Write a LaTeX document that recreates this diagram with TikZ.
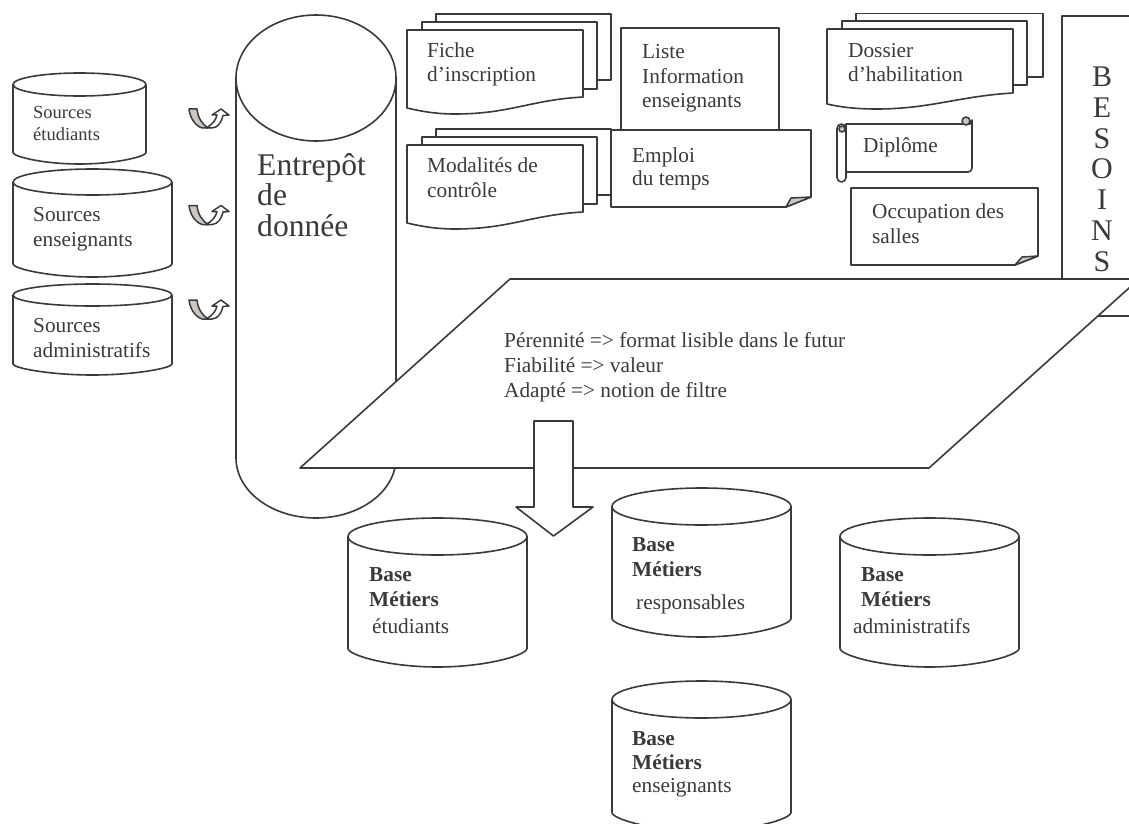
\documentclass[tikz,border=0pt]{standalone}
\usepackage{fontspec}
\setmainfont{Liberation Serif}
\definecolor{ink}{HTML}{3A3A3A}
\definecolor{foldgray}{HTML}{CBC6C2}
\tikzset{
  shapeline/.style={draw=ink,line width=1.6pt,fill=white,line join=round},
  thinline/.style={draw=ink,line width=1.5pt,line join=round},
  lbl/.style={anchor=base west,inner sep=0pt,align=left,text=ink,font=\fontsize{21.3}{24.5}\selectfont},
  lblsmall/.style={lbl,font=\fontsize{18.5}{22}\selectfont},
  lblbig/.style={lbl,font=\fontsize{31.6}{30.5}\selectfont},
  lblemp/.style={lbl,font=\fontsize{21.3}{23}\selectfont},
  lblbes/.style={lbl,align=center,anchor=base,font=\fontsize{30}{30.7}\selectfont},
  lblblock/.style={lbl,font=\fontsize{21.3}{25}\selectfont},
}
% x1, x2, top, bottom, ry
\newcommand\cylshape[5]{%
  \pgfmathsetmacro\cylcx{(#1+#2)/2}%
  \pgfmathsetmacro\cylrx{(#2-#1)/2}%
  \pgfmathsetmacro\cylcy{#3+#5}%
  \pgfmathsetmacro\cylsb{#4-#5}%
  \pgfmathsetmacro\cylca{#4-0.65*#5}%
  \pgfmathsetmacro\cylcl{#1+0.45*\cylrx}%
  \pgfmathsetmacro\cylcr{#2-0.45*\cylrx}%
  \draw[shapeline] (#1,\cylcy) -- (#1,\cylsb)
    .. controls (#1,\cylca) and (\cylcl,#4) .. (\cylcx,#4)
    .. controls (\cylcr,#4) and (#2,\cylca) .. (#2,\cylsb)
    -- (#2,\cylcy);
  \draw[shapeline] (\cylcx,\cylcy) ellipse [x radius=\cylrx,y radius=#5];
}
% stacked wave document: dx, dy from the Fiche position
\newcommand\wavestack[2]{%
  \begin{scope}[shift={(#1,#2)}]
    \draw[shapeline] (436,14) -- (611,14) -- (611,80) -- (560,80) -- (436,80) -- cycle;
    \draw[shapeline] (422,22) -- (597,22) -- (597,89) -- (540,89) -- (422,89) -- cycle;
    \draw[shapeline] (407,30) -- (583,30) -- (583,97)
      .. controls (530,100) and (510,114) .. (455,114)
      .. controls (435,114) and (420,111) .. (407,108) -- cycle;
  \end{scope}
}
% fold page: x1,x2,top,bottom,right end of side,left end of bottom,fold x
\newcommand\foldpage[7]{%
  \draw[shapeline] (#1,#3) -- (#2,#3) -- (#2,#5) -- (#6,#4) -- (#1,#4) -- cycle;
  \draw[thinline,fill=foldgray] (#6,#4) -- (#7,#5+1) -- (#2,#5) -- cycle;
}
% curved arrow
\newcommand\bentarrow[1]{%
  \begin{scope}[shift={(0,#1)}]
    \draw[thinline,fill=foldgray] (189,109) -- (197,109)
      .. controls (198,118) and (202,124) .. (208,128)
      -- (202,128) .. controls (194,125) and (190,117) .. (189,109) -- cycle;
    \draw[thinline,fill=white] (206,128)
      .. controls (212,125) and (216,120) .. (217,115)
      -- (212,115) -- (221,109) -- (229,115) -- (223,115.5)
      .. controls (222,121) and (218,128) .. (212,128) -- cycle;
  \end{scope}
}
\begin{document}
\begin{tikzpicture}[x=1pt,y=-1pt]
\clip (0,0) rectangle (1129,824);
\fill[white] (0,0) rectangle (1129,824);

% sources
\cylshape{13}{146}{73}{164}{11.5}
\cylshape{13}{172}{169}{277}{13}
\cylshape{13}{172}{284}{375}{11}
\node[lblsmall] (srcetu) at (33,140) {Sources\\étudiants};
\node[lbl] (srcens) at (33,246) {Sources\\enseignants};
\node[lbl] (srcadm) at (33,357) {Sources\\administratifs};

\bentarrow{0}
\bentarrow{96.5}
\bentarrow{191}

% warehouse
\draw[shapeline] (236,78) -- (236,458)
  arc[start angle=180,end angle=0,x radius=80,y radius=60] -- (396,78);
\draw[shapeline] (316,78) ellipse [x radius=80,y radius=63];
\node[lblbig] (entrepot) at (257,236) {Entrepôt\\de\\donnée};

% documents
\draw[shapeline] (621,28) rectangle (779,140);
\node[lbl] (liste) at (642,108) {Liste\\Information\\enseignants};

\wavestack{0}{0}
\node[lbl] (fiche) at (427,82) {Fiche\\d’inscription};
\wavestack{0}{115}
\node[lbl] (modal) at (427,197) {Modalités de\\contrôle};

\foldpage{611}{811}{130}{207}{197}{786}{791}
\node[lblemp] (emploi) at (632,185) {Emploi\\du temps};

\begin{scope}[shift={(420,-1)}]
  \draw[shapeline] (436,14.5) -- (623,14.5) -- (623,78) -- (436,78) -- cycle;
  \draw[shapeline] (422,22) -- (607,22) -- (607,86) -- (422,86) -- cycle;
  \draw[shapeline] (407,30) -- (593,30) -- (593,94)
    .. controls (540,97) and (510,110) .. (457,110)
    .. controls (435,110) and (420,108) .. (407,105) -- cycle;
\end{scope}
\node[lbl] (dossier) at (848,82) {Dossier\\d’habilitation};

% scroll
\draw[shapeline] (846,124) -- (970,124) -- (972,120) -- (972,168)
  arc[start angle=0,end angle=90,radius=4] -- (846,172) -- cycle;
\draw[shapeline,rounded corners=4.5pt] (837,124) rectangle (846,182);
\draw[shapeline,fill=foldgray] (966,121) circle [radius=4];
\draw[shapeline,fill=foldgray] (842,129) circle [radius=3];
\node[lbl] (diplome) at (863,152) {Diplôme};

\foldpage{851}{1038}{188}{265}{256}{1015}{1022}
\node[lbl] (occup) at (872,243) {Occupation des\\salles};

% needs box
\draw[shapeline] (1140,16) -- (1062,16) -- (1062,316) -- (1140,316);
\node[lblbes] (besoins) at (1102,271) {B\\E\\S\\O\\I\\N\\S};

% plane
\draw[shapeline] (510,279) -- (1139,279) -- (929,468) -- (300,468) -- cycle;
\node[lblblock] (criteres) at (504,397) {Pérennité => format lisible dans le futur\\Fiabilité => valeur\\Adapté => notion de filtre};

% block arrow
\draw[shapeline] (534,421) -- (573,421) -- (573,507) -- (593,507) -- (553.5,536)
  -- (516,507) -- (534,507) -- cycle;

% business bases
\cylshape{348}{527}{518}{667}{18.5}
\cylshape{612}{791}{488}{637}{18.5}
\cylshape{840}{1019}{518}{667}{18.5}
\cylshape{612}{791}{681}{831}{18.5}
\node[lbl] (betu) at (369,633) {\textbf{Base}\\\textbf{Métiers}\\[2.5pt]\hspace*{3pt}étudiants};
\node[lbl] (bresp) at (632,609) {\textbf{Base}\\\textbf{Métiers}\\[8.5pt]\hspace*{4pt}responsables};
\node[lbl] (badm) at (853,633) {\hspace*{8pt}\textbf{Base}\\\hspace*{8pt}\textbf{Métiers}\\[2.5pt]administratifs};
\node[lbl] (bens) at (632,792) {\textbf{Base}\\\textbf{Métiers}\\[-2pt]enseignants};
\end{tikzpicture}
\end{document}
